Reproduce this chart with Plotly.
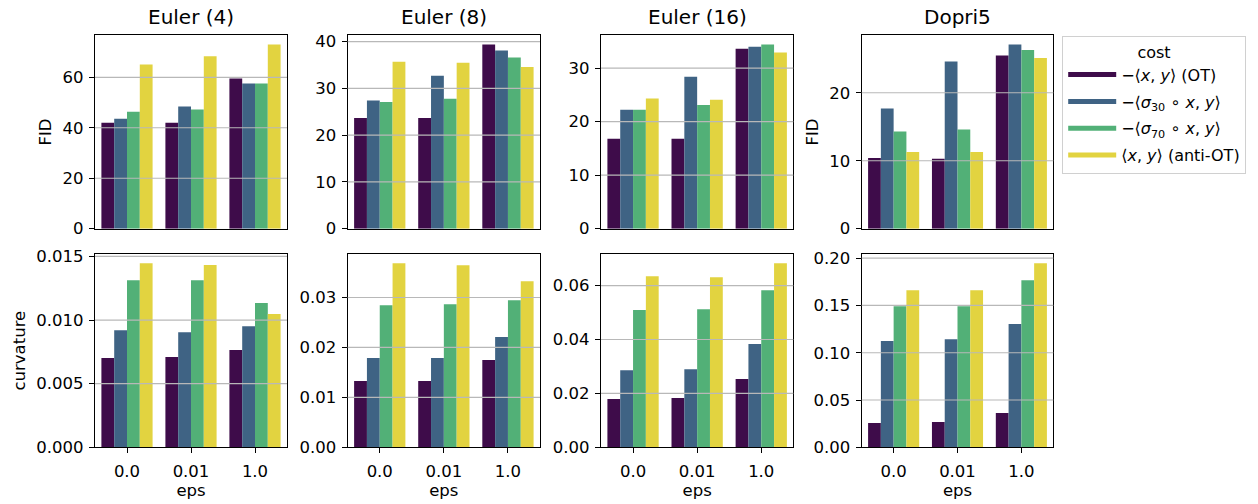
import plotly.graph_objects as go

# ---------------- data ----------------
eps_labels = ["0.0", "0.01", "1.0"]
solvers = ["Euler (4)", "Euler (8)", "Euler (16)", "Dopri5"]
cost_names = [
    "−⟨<i>x</i>, <i>y</i>⟩ (OT)",
    "−⟨<i>σ</i><sub>30</sub> ∘ <i>x</i>, <i>y</i>⟩",
    "−⟨<i>σ</i><sub>70</sub> ∘ <i>x</i>, <i>y</i>⟩",
    "⟨<i>x</i>, <i>y</i>⟩ (anti-OT)",
]
colors = ["#3e0c4a", "#3f6384", "#52b077", "#e2d340"]

# rows: costs (OT, sigma30, sigma70, anti-OT); columns: eps 0.0, 0.01, 1.0
fid_euler4 = [[42.0, 42.0, 59.5], [43.6, 48.4, 57.5], [46.4, 47.2, 57.5], [65.1, 68.3, 73.0]]
fid_euler8 = [[23.7, 23.7, 39.4], [27.4, 32.7, 38.1], [27.1, 27.8, 36.6], [35.7, 35.5, 34.6]]
fid_euler16 = [[16.8, 16.8, 33.6], [22.2, 28.4, 34.0], [22.2, 23.1, 34.4], [24.3, 24.1, 32.9]]
fid_dopri5 = [[10.4, 10.3, 25.5], [17.7, 24.6, 27.1], [14.3, 14.6, 26.3], [11.3, 11.3, 25.1]]

curv_euler4 = [[0.00701, 0.00709, 0.00764], [0.00921, 0.00905, 0.00952],
               [0.01313, 0.01313, 0.01135], [0.01447, 0.01432, 0.01047]]
curv_euler8 = [[0.01327, 0.01327, 0.01747], [0.01787, 0.01787, 0.02207],
               [0.02847, 0.02867, 0.02947], [0.03687, 0.03647, 0.03327]]
curv_euler16 = [[0.0179, 0.0183, 0.0253], [0.0286, 0.0290, 0.0383],
                [0.0509, 0.0512, 0.0583], [0.0635, 0.0631, 0.0683]]
curv_dopri5 = [[0.0257, 0.0268, 0.0363], [0.1123, 0.1144, 0.1303],
               [0.1493, 0.1493, 0.1768], [0.1662, 0.1662, 0.1947]]

fid_ticks = [[0, 20, 40, 60], [0, 10, 20, 30, 40], [0, 10, 20, 30], [0, 10, 20]]
curv_ticks = [[0.0, 0.005, 0.010, 0.015], [0.0, 0.01, 0.02, 0.03],
              [0.0, 0.02, 0.04, 0.06], [0.0, 0.05, 0.10, 0.15, 0.20]]
curv_fmt = [".3f", ".2f", ".2f", ".2f"]

fid_data = [fid_euler4, fid_euler8, fid_euler16, fid_dopri5]
curv_data = [curv_euler4, curv_euler8, curv_euler16, curv_dopri5]

# ---------------- layout geometry (pixels) ----------------
W, H = 1258, 504
col_px = [(95, 287), (347.7, 540), (601, 793.3), (861.7, 1053.3)]
row_px = [(35.3, 228.7), (254, 447.3)]

FONT = "DejaVu Sans"
TS = 16.5
fig = go.Figure()
layout = dict(
    width=W, height=H,
    margin=dict(l=0, r=0, t=0, b=0, autoexpand=False),
    paper_bgcolor="white", plot_bgcolor="white",
    barmode="group", bargap=0.2, bargroupgap=0.0,
    font=dict(family=FONT, size=TS, color="black"),
    showlegend=True,
    hovermode=False,
)
shapes = []
annotations = []

for r in range(2):
    for c in range(4):
        idx = r * 4 + c + 1
        xa = "x" if idx == 1 else f"x{idx}"
        ya = "y" if idx == 1 else f"y{idx}"
        data = fid_data[c] if r == 0 else curv_data[c]
        ticks = fid_ticks[c] if r == 0 else curv_ticks[c]
        ymax = max(max(row) for row in data) * 1.05
        for k in range(4):
            fig.add_trace(go.Bar(
                x=eps_labels, y=data[k], name=cost_names[k],
                marker=dict(color=colors[k], line=dict(width=0)),
                xaxis=xa, yaxis=ya, legendgroup=str(k),
                showlegend=False,
            ))
        x0, x1 = col_px[c]
        y0, y1 = row_px[r]
        xdom = [x0 / W, x1 / W]
        ydom = [1 - y1 / H, 1 - y0 / H]
        xkey = "xaxis" if idx == 1 else f"xaxis{idx}"
        ykey = "yaxis" if idx == 1 else f"yaxis{idx}"
        xdict = dict(
            domain=xdom, anchor=ya, type="category", automargin=False,
            range=[-0.5, 2.5],
            showline=True, linecolor="black", linewidth=1.2, mirror=True,
            showgrid=False, zeroline=False,
            ticks="outside" if r == 1 else "", ticklen=5, tickwidth=1.1, tickcolor="black",
            showticklabels=(r == 1), ticklabelstandoff=4,
            tickfont=dict(size=TS),
        )
        if r == 1:
            xdict["title"] = dict(text="eps", font=dict(size=TS), standoff=4)
        layout[xkey] = xdict
        ytitle = None
        if r == 0 and c in (0, 3):
            ytitle = "FID"
        if r == 1 and c == 0:
            ytitle = "curvature"
        ydict = dict(
            domain=ydom, anchor=xa, automargin=False,
            range=[0, ymax],
            showline=True, linecolor="black", linewidth=1.2, mirror=True,
            showgrid=False, zeroline=False,
            ticks="outside", ticklen=5, tickwidth=1.1, tickcolor="black",
            tickvals=ticks, ticklabelstandoff=2,
            tickformat=("d" if r == 0 else curv_fmt[c]),
            tickfont=dict(size=TS),
        )
        if ytitle:
            ydict["title"] = dict(text=ytitle, font=dict(size=TS), standoff=6)
        layout[ykey] = ydict
        # horizontal grid lines drawn above bars, at tick values
        for t in ticks:
            if t == 0:
                continue
            shapes.append(dict(
                type="line", xref=f"{xa} domain", yref=ya,
                x0=0, x1=1, y0=t, y1=t,
                line=dict(color="#b8b8b8", width=1.2), layer="above",
            ))
        if r == 0:
            annotations.append(dict(
                text=solvers[c], xref="paper", yref="paper",
                x=(xdom[0] + xdom[1]) / 2, y=1 - 17 / H,
                xanchor="center", yanchor="middle", showarrow=False,
                font=dict(size=20, family=FONT, color="black"),
            ))

# legend proxies: wide colour patches like matplotlib legend handles
for k in range(4):
    fig.add_trace(go.Scatter(
        x=[None], y=[None], mode="lines", name=cost_names[k],
        line=dict(color=colors[k], width=12),
        xaxis="x", yaxis="y", legendgroup=str(k), showlegend=True,
    ))

layout["shapes"] = shapes
layout["annotations"] = annotations
layout["legend"] = dict(
    x=1062 / W, y=1 - 35.7 / H, xanchor="left", yanchor="top",
    bgcolor="white", bordercolor="#d0d0d0", borderwidth=1.2,
    font=dict(size=16, family=FONT, color="black"),
    title=dict(text="cost", side="top center", font=dict(size=16, family=FONT)),
    tracegroupgap=3, itemsizing="constant", itemwidth=48,
)
fig.update_layout(**layout)
fig.write_html(
    "out.html",
    config={"displayModeBar": False},
    post_script="document.body.style.margin='0px';document.body.style.overflow='hidden';",
)
